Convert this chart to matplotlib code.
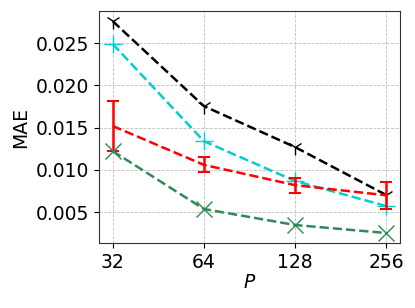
import matplotlib
matplotlib.use("Agg")
import matplotlib.pyplot as plt

P = [32, 64, 128, 256]
black_vals = [0.0276, 0.01755, 0.0127, 0.00703]
cyan_vals = [0.0249, 0.0134, 0.00869, 0.00573]
red_vals = [0.0152, 0.0106, 0.0082, 0.0070]
red_err = [0.0029, 0.0009, 0.0009, 0.0016]
green_vals = [0.01223, 0.00538, 0.00349, 0.00254]
xtick_labels = ["32", "64", "128", "256"]

fig = plt.figure(figsize=(4.15, 3.08), dpi=100)
ax = fig.add_axes([99/415, 1-243/308, (400-99)/415, (243-11)/308])
ax.set_xscale("log", base=2)

ax.plot(P, black_vals, linestyle="--", color="black", marker="1", markersize=11, lw=1.8)
ax.plot(P, cyan_vals, linestyle="--", color="darkturquoise", marker="+", markersize=13, lw=1.8)
ax.errorbar(P, red_vals, yerr=red_err, linestyle="--", color="red", capsize=4, lw=1.8, elinewidth=1.8, capthick=1.5)
ax.plot(P, green_vals, linestyle="--", color="seagreen", marker="x", markersize=12, lw=1.8)

ax.set_xlim(P[0] / 2 ** 0.15, P[-1] * 2 ** 0.15)
ax.set_xticks(P)
ax.set_xticklabels(xtick_labels)
ax.minorticks_off()
ax.set_yticks([0.005, 0.010, 0.015, 0.020, 0.025])
ax.set_yticklabels(["0.005", "0.010", "0.015", "0.020", "0.025"])
ax.set_ylim(0.00136, 0.0288)
ax.tick_params(labelsize=13.5)
ax.grid(True, linestyle="--", color="#c0c0c0", lw=0.6)
for s in ax.spines.values():
    s.set_color("#333333")
ax.set_xlabel("$P$", fontsize=13.5, labelpad=1)
ax.set_ylabel("MAE", fontsize=13.5)

fig.savefig("out.png", dpi=100)
